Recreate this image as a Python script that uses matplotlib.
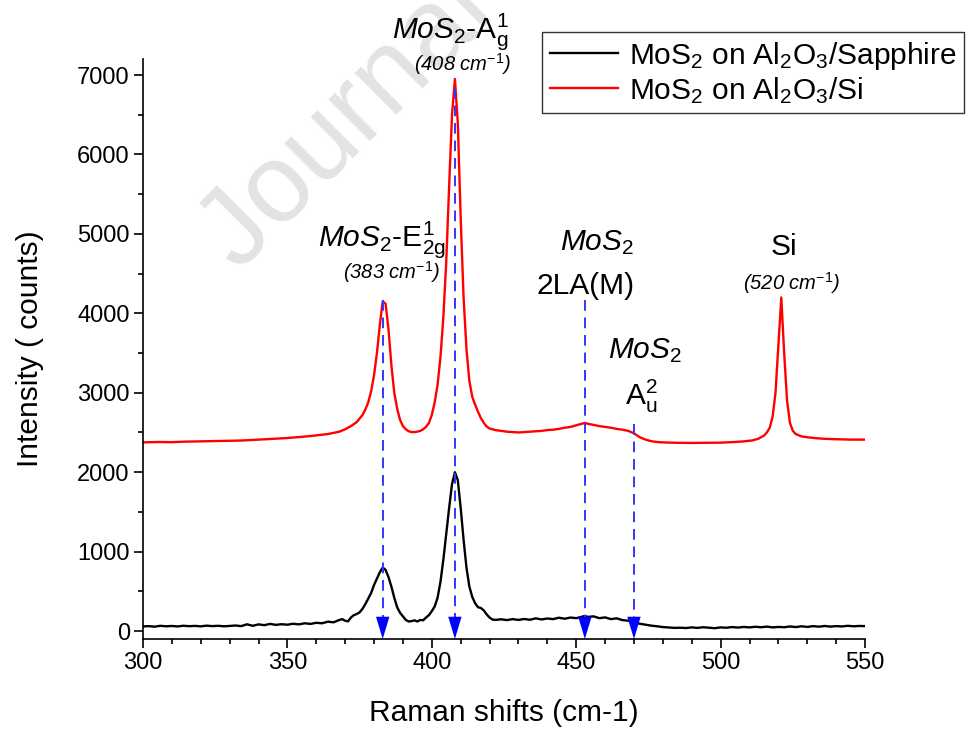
import matplotlib.pyplot as plt
from matplotlib.ticker import MultipleLocator

plt.rcParams['font.family'] = ['Liberation Sans', 'DejaVu Sans']
plt.rcParams['mathtext.fontset'] = 'custom'
plt.rcParams['mathtext.rm'] = 'Liberation Sans'
plt.rcParams['mathtext.it'] = 'Liberation Sans:italic'
plt.rcParams['mathtext.bf'] = 'Liberation Sans:bold'

# MoS2 on Al2O3/Sapphire
shift_sapph = [300, 302, 304, 306, 308, 310, 312, 314, 316, 318, 320, 322, 324, 326, 328,
               330, 332, 334, 336, 338, 340, 342, 344, 346, 348, 350, 352, 354, 356, 358,
               360, 362, 364, 366, 368, 369, 370, 371, 372, 373, 374, 375, 376, 377, 378,
               379, 380, 381, 382, 383, 384, 385, 386, 387, 388, 389, 390, 391, 392, 393,
               394, 395, 396, 397, 398, 399, 400, 401, 402, 403, 404, 405, 406, 407, 408,
               409, 410, 411, 412, 413, 414, 415, 416, 417, 418, 419, 420, 421, 422, 424,
               426, 428, 430, 432, 434, 436, 438, 440, 442, 444, 446, 448, 450, 452, 453,
               454, 456, 458, 460, 462, 464, 466, 468, 470, 472, 474, 476, 478, 480, 482,
               484, 486, 488, 490, 492, 494, 496, 498, 500, 502, 504, 506, 508, 510, 512,
               514, 516, 518, 520, 522, 524, 526, 528, 530, 532, 534, 536, 538, 540, 542,
               544, 546, 548, 550]
int_sapph = [58, 62, 55, 66, 60, 64, 58, 67, 61, 65, 59, 68, 62, 66, 60,
             64, 70, 62, 85, 66, 84, 74, 90, 78, 86, 80, 92, 84, 98, 90,
             104, 98, 118, 110, 140, 150, 130, 122, 170, 200, 215, 235, 280, 340, 410,
             480, 580, 660, 740, 800, 770, 680, 560, 420, 300, 230, 185, 140, 120, 125,
             135, 120, 140, 135, 170, 200, 250, 310, 420, 620, 900, 1230, 1550, 1850, 2000,
             1900, 1550, 1150, 800, 560, 430, 350, 300, 290, 260, 210, 170, 145, 140, 148,
             138, 150, 140, 152, 142, 160, 146, 158, 150, 168, 155, 170, 162, 180, 192,
             178, 185, 162, 172, 150, 160, 138, 130, 112, 92, 80, 68, 60, 50, 45,
             40, 42, 38, 46, 40, 48, 42, 36, 46, 42, 50, 44, 52, 46, 54,
             48, 56, 46, 52, 48, 58, 50, 60, 52, 62, 55, 64, 56, 62, 58,
             66, 60, 64, 62]

# MoS2 on Al2O3/Si
shift_si = [300, 305, 310, 315, 320, 325, 330, 335, 340, 345, 350, 355, 358, 361, 364,
            366, 368, 370, 372, 374, 376, 377, 378, 379, 380, 381, 382, 383, 384, 385,
            386, 387, 388, 389, 390, 391, 392, 393, 394, 395, 396, 397, 398, 399, 400,
            401, 402, 403, 404, 405, 406, 407, 408, 409, 410, 411, 412, 413, 414, 415,
            416, 417, 418, 419, 420, 422, 424, 426, 428, 430, 432, 434, 436, 438, 440,
            442, 444, 446, 448, 450, 452, 453, 454, 456, 458, 460, 462, 464, 466, 468,
            470, 472, 474, 476, 478, 480, 485, 490, 495, 500, 505, 508, 511, 513, 515,
            516, 517, 518, 519, 520, 521, 522, 523, 524, 525, 526, 528, 530, 533, 536,
            540, 545, 550]
int_si = [2375, 2380, 2378, 2385, 2388, 2392, 2395, 2400, 2410, 2420, 2430, 2445, 2455, 2468, 2480,
          2495, 2510, 2540, 2580, 2630, 2720, 2790, 2880, 3020, 3220, 3500, 3850, 4150, 4120, 3800,
          3350, 3000, 2800, 2660, 2580, 2540, 2515, 2505, 2505, 2510, 2520, 2540, 2570, 2620, 2720,
          2880, 3100, 3450, 3950, 4650, 5600, 6500, 6950, 6400, 5200, 4200, 3550, 3150, 2950, 2850,
          2760, 2680, 2620, 2575, 2550, 2530, 2520, 2510, 2505, 2500, 2505, 2510, 2515, 2520, 2530,
          2535, 2545, 2560, 2570, 2590, 2610, 2620, 2610, 2595, 2580, 2570, 2560, 2545, 2535, 2520,
          2490, 2440, 2410, 2390, 2380, 2375, 2370, 2368, 2370, 2372, 2380, 2388, 2400, 2420, 2460,
          2500, 2560, 2700, 3000, 3600, 4200, 3500, 2900, 2620, 2520, 2480, 2450, 2440, 2428, 2420,
          2415, 2410, 2410]

# peak markers: position, top of the dashed guide
peak_pos = [383, 408, 453, 470]
peak_top = [4170, 6840, 4170, 2610]

fig = plt.figure(figsize=(9.7, 7.36), dpi=100)
ax = fig.add_axes([0.1474, 0.1318, 0.7444, 0.7884])

# faint journal watermark behind everything
fig.text(0.246, 0.629, 'Journal Pre-proof', fontsize=80, color='#e3e3e3',
         rotation=45, rotation_mode='anchor', ha='left', va='baseline', zorder=-1)
ax.patch.set_alpha(0)

ax.plot(shift_sapph, int_sapph, color='black', lw=1.7, label=r'MoS$_2$ on Al$_2$O$_3$/Sapphire')
ax.plot(shift_si, int_si, color='red', lw=1.7, label=r'MoS$_2$ on Al$_2$O$_3$/Si')

ybot = -100
for x, top in zip(peak_pos, peak_top):
    ax.plot([x, x], [top, ybot + 220], color='#3535ff', lw=1.4, ls=(0, (5.5, 3.5)), zorder=3)
    ax.annotate('', xy=(x, ybot), xytext=(x, ybot + 240),
                arrowprops=dict(arrowstyle='-|>,head_length=1.0,head_width=0.3',
                                color='blue', lw=0.01, mutation_scale=16,
                                shrinkA=0, shrinkB=0),
                annotation_clip=False, zorder=4)

ax.set_xlim(300, 550)
ax.set_ylim(ybot, 7205)
ax.xaxis.set_major_locator(MultipleLocator(50))
ax.xaxis.set_minor_locator(MultipleLocator(10))
ax.yaxis.set_major_locator(MultipleLocator(1000))
ax.yaxis.set_minor_locator(MultipleLocator(500))
ax.tick_params(which='major', direction='out', length=6.5, width=1.2, labelsize=17, pad=3)
ax.tick_params(which='minor', direction='out', length=3.5, width=1.2)
for s in ['top', 'right']:
    ax.spines[s].set_visible(False)
for s in ['left', 'bottom']:
    ax.spines[s].set_linewidth(1.2)

ax.set_xlabel('Raman shifts (cm-1)', fontsize=21.5, labelpad=18)
ax.set_ylabel('Intensity ( counts)', fontsize=21.5, labelpad=24)

# peak labels
big = 21.5
small = 14.5
ax.text(406.3, 7466, r'$MoS_2$-A$_\mathrm{g}^1$', fontsize=big, ha='center', va='baseline')
ax.text(410.5, 7050, r'(408 cm$^{\mathit{-1}}$)', fontsize=small, style='italic', ha='center', va='baseline')
ax.text(382.8, 4847, r'$MoS_2$-E$_\mathrm{2g}^1$', fontsize=big, ha='center', va='baseline')
ax.text(386.2, 4432, r'(383 cm$^{\mathit{-1}}$)', fontsize=small, style='italic', ha='center', va='baseline')
ax.text(457.2, 4797, r'$MoS_2$', fontsize=big, ha='center', va='baseline')
ax.text(453.4, 4243, '2LA(M)', fontsize=big, ha='center', va='baseline')
ax.text(473.8, 3437, r'$MoS_2$', fontsize=big, ha='center', va='baseline')
ax.text(472.4, 2845, r'A$_\mathrm{u}^2$', fontsize=big, ha='center', va='baseline')
ax.text(522, 4734, 'Si', fontsize=big, ha='center', va='baseline')
ax.text(524.4, 4293, r'(520 cm$^{\mathit{-1}}$)', fontsize=small, style='italic', ha='center', va='baseline')

leg = ax.legend(loc='upper left', bbox_to_anchor=(0.559, 0.956), bbox_transform=fig.transFigure,
                fontsize=21.5, frameon=True, fancybox=False, edgecolor='black',
                handlelength=2.3, handletextpad=0.35, labelspacing=0.1, borderpad=0.25,
                borderaxespad=0)
leg.get_frame().set_linewidth(1.0)

fig.savefig('out.png', dpi=100)
